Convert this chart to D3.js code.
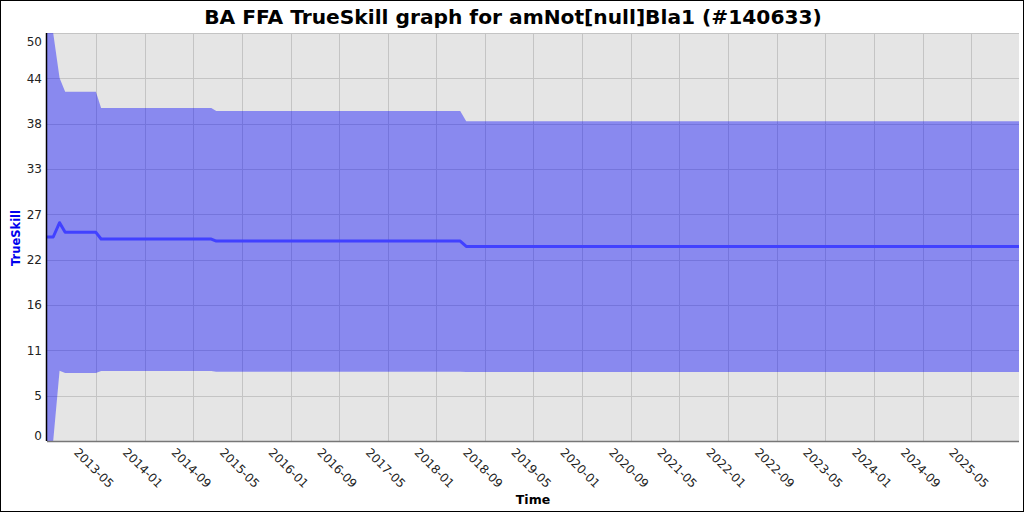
<!DOCTYPE html>
<html>
<head>
<meta charset="utf-8">
<script src="https://cdn.jsdelivr.net/npm/d3@7"></script>
<style>
  body { margin: 0; background: #fff; }
  svg { display: block; font-family: "DejaVu Sans", sans-serif; }
</style>
</head>
<body>
<div class="chart"></div>
<script>
// data
var dates = ["2012-08-29", "2012-09-29", "2012-10-31", "2012-11-28", "2013-05-01", "2013-05-27",
  "2014-11-30", "2014-12-25", "2018-04-30", "2018-05-30", "2025-12-28"];
var mu = [25.0, 25.0, 26.75, 25.57, 25.57, 24.75, 24.75, 24.5, 24.5, 23.85, 23.85];
var upper = [55, 50, 44.5, 42.8, 42.8, 40.8, 40.8, 40.45, 40.45, 39.2, 39.2];
var lower = [-6, 0, 8.6, 8.33, 8.33, 8.58, 8.58, 8.5, 8.5, 8.45, 8.45];

var xTickLabels = ["2013-05", "2014-01", "2014-09", "2015-05", "2016-01", "2016-09", "2017-05",
  "2018-01", "2018-09", "2019-05", "2020-01", "2020-09", "2021-05", "2022-01", "2022-09",
  "2023-05", "2024-01", "2024-09", "2025-05"];
var yTickValues = [0, 5.56, 11.11, 16.67, 22.22, 27.78, 33.33, 38.89, 44.44, 50];
var yTickLabels = ["0", "5", "11", "16", "22", "27", "33", "38", "44", "50"];

var svgWidth = 1024;
var svgHeight = 512;
var margin = { top: 33, right: 5, bottom: 71, left: 47 };
var width = svgWidth - margin.left - margin.right;
var height = svgHeight - margin.top - margin.bottom;

var parseDate = d3.timeParse("%Y-%m-%d");
var parseMonth = d3.timeParse("%Y-%m");

var dataset = dates.map(function(d, i) {
  return { date: parseDate(d), mu: mu[i], hi: upper[i], lo: lower[i] };
});

var svg = d3.select(".chart")
  .append("svg")
  .attr("width", svgWidth)
  .attr("height", svgHeight);

// outer frame
svg.append("rect")
  .attr("x", 0.5).attr("y", 0.5)
  .attr("width", svgWidth - 1).attr("height", svgHeight - 1)
  .attr("fill", "#fff")
  .attr("stroke", "#000");

svg.append("defs").append("clipPath")
  .attr("id", "plotclip")
  .append("rect")
  .attr("width", width)
  .attr("height", height);

var chartGroup = svg.append("g")
  .attr("transform", `translate(${margin.left}, ${margin.top})`);

var xScale = d3.scaleTime()
  .domain([parseDate("2012-08-29"), parseDate("2025-12-28")])
  .range([0, width]);

var yScale = d3.scaleLinear()
  .domain([0, 50])
  .range([height, 0]);

// plot background
chartGroup.append("rect")
  .attr("width", width)
  .attr("height", height)
  .attr("fill", "#e5e5e5");

// grid lines
chartGroup.append("g")
  .selectAll("line.vgrid")
  .data(xTickLabels)
  .enter()
  .append("line")
  .attr("x1", d => Math.round(xScale(parseMonth(d))) + 0.5)
  .attr("x2", d => Math.round(xScale(parseMonth(d))) + 0.5)
  .attr("y1", 0)
  .attr("y2", height)
  .attr("stroke", "#c4c4c4")
  .attr("stroke-width", 1);

chartGroup.append("g")
  .selectAll("line.hgrid")
  .data(yTickValues.slice(1))
  .enter()
  .append("line")
  .attr("x1", 0)
  .attr("x2", width)
  .attr("y1", d => Math.round(yScale(d)) + 0.5)
  .attr("y2", d => Math.round(yScale(d)) + 0.5)
  .attr("stroke", "#c4c4c4")
  .attr("stroke-width", 1);

var plot = chartGroup.append("g").attr("clip-path", "url(#plotclip)");

// uncertainty band
var band = d3.area()
  .x(d => xScale(d.date))
  .y0(d => yScale(d.lo))
  .y1(d => yScale(d.hi));

plot.append("path")
  .datum(dataset)
  .attr("d", band)
  .attr("fill", "#0000ff")
  .attr("fill-opacity", 0.4);

// mean line
var line = d3.line()
  .x(d => xScale(d.date))
  .y(d => yScale(d.mu));

plot.append("path")
  .datum(dataset)
  .attr("d", line)
  .attr("fill", "none")
  .attr("stroke", "#4141ff")
  .attr("stroke-width", 3)
  .attr("stroke-linejoin", "round");

// axes lines
chartGroup.append("line")
  .attr("x1", 0).attr("x2", width)
  .attr("y1", height + 0.5).attr("y2", height + 0.5)
  .attr("stroke", "#777")
  .attr("stroke-width", 1.5);

chartGroup.append("line")
  .attr("x1", -0.5).attr("x2", -0.5)
  .attr("y1", 0).attr("y2", height)
  .attr("stroke", "#000")
  .attr("stroke-width", 1.5);

// y tick labels
chartGroup.append("g")
  .selectAll("text")
  .data(yTickValues)
  .enter()
  .append("text")
  .attr("x", -5)
  .attr("y", d => Math.max(9, Math.min(height - 5, yScale(d))))
  .attr("dy", "0.35em")
  .attr("text-anchor", "end")
  .attr("font-size", 12)
  .attr("fill", "#222")
  .text((d, i) => yTickLabels[i]);

// x tick labels, rotated
chartGroup.append("g")
  .selectAll("text")
  .data(xTickLabels)
  .enter()
  .append("text")
  .attr("transform", d => `translate(${xScale(parseMonth(d)) - 2}, ${height + 27}) rotate(45)`)
  .attr("text-anchor", "middle")
  .attr("dy", "0.35em")
  .attr("font-size", 12)
  .attr("fill", "#222")
  .text(d => d);

// title
svg.append("text")
  .attr("x", 513)
  .attr("y", 24)
  .attr("text-anchor", "middle")
  .attr("font-size", 20.2)
  .attr("font-weight", "bold")
  .text("BA FFA TrueSkill graph for amNot[null]Bla1 (#140633)");

// axis titles
svg.append("text")
  .attr("transform", "translate(20, 238) rotate(-90)")
  .attr("text-anchor", "middle")
  .attr("font-size", 11.5)
  .attr("font-weight", "bold")
  .attr("fill", "#0000ee")
  .text("TrueSkill");

svg.append("text")
  .attr("x", 533)
  .attr("y", 504)
  .attr("text-anchor", "middle")
  .attr("font-size", 12.5)
  .attr("font-weight", "bold")
  .text("Time");
</script>
</body>
</html>
